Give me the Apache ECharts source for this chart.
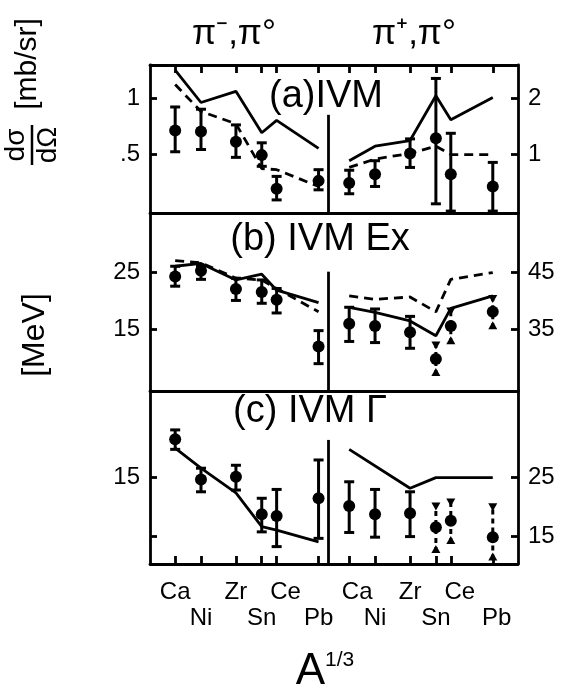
<!DOCTYPE html>
<html><head><meta charset="utf-8">
<script src="https://cdn.jsdelivr.net/npm/echarts@6/dist/echarts.min.js"></script>
<style>html,body{margin:0;padding:0;background:#fff}#c{width:566px;height:696px}</style>
</head><body><div id="c"></div>
<script>
// ---------- data ----------
const elements = ['Ca','Ni','Zr','Sn','Ce','Pb'];
const massNumbers = [40, 58, 90, 120, 140, 208];

// (a) IVM cross section  [mb/sr]
const aLeftData   = [0.71, 0.70, 0.61, 0.49, 0.19, 0.26];
const aLeftLow    = [0.52, 0.54, 0.47, 0.39, 0.09, 0.18];
const aLeftHigh   = [0.92, 0.90, 0.76, 0.60, 0.30, 0.36];
const aLeftSolid  = [1.25, 0.96, 1.06, 0.69, 0.80, 0.55];
const aLeftDashed = [1.12, 0.88, 0.77, 0.37, 0.36, 0.21];

const aRightData   = [0.48, 0.64, 1.01, 1.28, 0.64, 0.42];
const aRightLow    = [0.29, 0.42, 0.76, 0.11, -0.02, -0.02];
const aRightHigh   = [0.71, 0.88, 1.27, 2.35, 1.37, 0.85];
const aRightSolid  = [0.88, 1.14, 1.24, 2.04, 1.61, 2.01];
const aRightDashed = [0.76, 0.91, 1.01, 1.14, 0.99, 0.99];

// (b) IVM Ex  [MeV]
const bLeftData   = [24.2, 25.2, 22.0, 21.5, 20.1, 11.9];
const bLeftLow    = [22.5, 23.7, 20.0, 19.5, 17.8, 8.9];
const bLeftHigh   = [26.0, 26.0, 23.9, 23.6, 22.1, 14.7];
const bLeftSolid  = [26.0, 26.5, 23.6, 24.6, 21.8, 19.6];
const bLeftDashed = [27.0, 26.6, 23.9, 23.6, 22.1, 18.0];

const bRightData   = [35.9, 35.5, 34.4, 29.7, 35.5, 38.0];
const bRightLow    = [32.8, 32.6, 31.6, 26.9, 32.5, 35.1];
const bRightHigh   = [38.8, 38.5, 37.2, 32.6, 38.6, 40.8];
const bRightSolid  = [38.8, 37.9, 36.4, 33.8, 38.6, 40.8];
const bRightDashed = [40.8, 40.2, 40.6, 38.0, 43.7, 44.9];

// (c) IVM Gamma  [MeV]
const cLeftData  = [21.4, 14.6, 15.05, 8.7, 8.4, 11.4];
const cLeftLow   = [19.7, 12.5, 12.8, 5.7, 3.2, 4.6];
const cLeftHigh  = [23.0, 16.5, 17.0, 11.4, 12.9, 17.9];
const cLeftSolid = [19.9, 16.5, 12.3, 6.6, 6.0, 4.0];

const cRightData  = [20.1, 18.7, 18.85, 16.5, 17.6, 14.8];
const cRightLow   = [15.6, 14.8, 14.9, 12.3, 13.8, 11.0];
const cRightHigh  = [24.2, 22.9, 22.5, 20.5, 21.2, 20.4];
const cRightSolid = [29.7, null, 23.1, 24.9, null, 24.9];

// tick values / labels
const aLeftTicks = [0.5, 1],  aLeftTickLabels = ['.5', '1'];
const aRightTicks = [1, 2],   aRightTickLabels = ['1', '2'];
const bLeftTicks = [15, 25],  bLeftTickLabels = ['15', '25'];
const bRightTicks = [35, 45], bRightTickLabels = ['35', '45'];
const cLeftTicks = [5, 15],   cLeftTickLabels = ['', '15'];
const cRightTicks = [15, 25], cRightTickLabels = ['15', '25'];

// ---------- build ----------
const FONT = 'Liberation Sans';
const xPos = massNumbers.map(a => Math.cbrt(a));
const dashedErrSet = new Set(['Sn','Ce','Pb']); // right panels (b),(c)

const xL = {min: 2.98, max: 6.09}, xR = {min: 3.05, max: 6.365};
const panels = [
  {top: 65,  height: 148, yL: [-0.027, 1.295], yR: [-0.054, 2.59]},
  {top: 213, height: 178, yL: [4.1, 35.35],   yR: [24.1, 55.35]},
  {top: 391, height: 173, yL: [0.25, 29.6],   yR: [10.25, 39.6]}
];
const dividerTop = [0.85, 25.05, 21.3];

const grids = [], xAxes = [], yAxes = [], series = [];
const tickLabelMaps = [
  [aLeftTicks, aLeftTickLabels], [aRightTicks, aRightTickLabels],
  [bLeftTicks, bLeftTickLabels], [bRightTicks, bRightTickLabels],
  [cLeftTicks, cLeftTickLabels], [cRightTicks, cRightTickLabels]
];
const LW = 2.8;
const axisLineStyle = {color: '#000', width: LW};

panels.forEach((p, pi) => {
  [0, 1].forEach(side => {
    const gi = pi * 2 + side;
    grids.push({left: side ? 328 : 150, width: side ? 190 : 178, top: p.top, height: p.height});
    const xr = side ? xR : xL;
    const isBottom = pi === 2;
    xAxes.push({
      type: 'value', gridIndex: gi, min: xr.min, max: xr.max, position: 'bottom',
      axisLine: {show: true, onZero: false, lineStyle: axisLineStyle},
      splitLine: {show: false},
      axisTick: {show: isBottom, inside: true, length: 8, customValues: xPos, lineStyle: {width: LW, color: '#000'}},
      axisLabel: {show: false}
    });
    const yr = side ? p.yR : p.yL;
    const [tv, tl] = tickLabelMaps[gi];
    yAxes.push({
      type: 'value', gridIndex: gi, min: yr[0], max: yr[1], position: side ? 'right' : 'left',
      axisLine: {show: true, onZero: false, lineStyle: axisLineStyle},
      splitLine: {show: false},
      axisTick: {show: true, inside: true, length: 7, customValues: tv, lineStyle: {width: LW, color: '#000'}},
      axisLabel: {
        customValues: tv, margin: 10, fontFamily: FONT, fontSize: 24, color: '#000',
        formatter: v => { const i = tv.findIndex(t => Math.abs(t - v) < 1e-6); return i >= 0 ? tl[i] : ''; }
      }
    });
  });
});
// top axes of panel (a)
[0, 1].forEach(side => {
  const xr = side ? xR : xL;
  xAxes.push({
    type: 'value', gridIndex: side, min: xr.min, max: xr.max, position: 'top',
    axisLine: {show: true, onZero: false, lineStyle: axisLineStyle},
    splitLine: {show: false},
    axisTick: {show: true, inside: true, length: 8, customValues: xPos, lineStyle: {width: LW, color: '#000'}},
    axisLabel: {show: false}
  });
});

function errRender(params, api) {
  const x = api.value(0), lo = api.value(1), hi = api.value(2), dashed = api.value(3);
  const pLo = api.coord([x, lo]), pHi = api.coord([x, hi]);
  const st = {stroke: '#000', lineWidth: 3};
  const ch = [{type: 'line', shape: {x1: pLo[0], y1: pLo[1], x2: pHi[0], y2: pHi[1]},
    style: Object.assign({}, st, dashed ? {lineDash: [5, 4]} : {})}];
  if (dashed) {
    ch.push({type: 'polygon', shape: {points: [[pHi[0]-4.5, pHi[1]-1], [pHi[0]+4.5, pHi[1]-1], [pHi[0], pHi[1]+7]]}, style: {fill: '#000'}});
    ch.push({type: 'polygon', shape: {points: [[pLo[0]-4.5, pLo[1]+1], [pLo[0]+4.5, pLo[1]+1], [pLo[0], pLo[1]-7]]}, style: {fill: '#000'}});
  } else {
    ch.push({type: 'line', shape: {x1: pHi[0]-5, y1: pHi[1], x2: pHi[0]+5, y2: pHi[1]}, style: st});
    ch.push({type: 'line', shape: {x1: pLo[0]-5, y1: pLo[1], x2: pLo[0]+5, y2: pLo[1]}, style: st});
  }
  return {type: 'group', children: ch};
}

function addPanel(gi, pts, lo, hi, solid, dashedLine, useDashedErr) {
  const pair = arr => arr.map((v, i) => [xPos[i], v]);
  const solidSeries = {
    type: 'line', xAxisIndex: gi, yAxisIndex: gi, data: pair(solid), showSymbol: false, symbol: 'none',
    connectNulls: true, lineStyle: {color: '#000', width: LW}, z: 3, silent: true, animation: false
  };
  if (gi % 2 === 0) {
    const pi = gi / 2;
    solidSeries.markLine = {
      symbol: 'none', silent: true, label: {show: false}, animation: false,
      lineStyle: {color: '#000', width: LW, type: 'solid'},
      data: [[{coord: [xL.max, dividerTop[pi]]}, {coord: [xL.max, panels[pi].yL[0]]}]]
    };
  }
  series.push(solidSeries);
  if (dashedLine) series.push({
    type: 'line', xAxisIndex: gi, yAxisIndex: gi, data: pair(dashedLine), showSymbol: false, symbol: 'none',
    lineStyle: {color: '#000', width: LW, type: [9, 6]}, z: 3, silent: true, animation: false
  });
  series.push({
    type: 'custom', xAxisIndex: gi, yAxisIndex: gi, clip: false, renderItem: errRender, z: 4, animation: false,
    data: pts.map((v, i) => [xPos[i], lo[i], hi[i], (useDashedErr && dashedErrSet.has(elements[i])) ? 1 : 0])
  });
  series.push({
    type: 'scatter', xAxisIndex: gi, yAxisIndex: gi, data: pair(pts), symbol: 'circle', symbolSize: 12,
    itemStyle: {color: '#000', opacity: 1}, z: 5, animation: false
  });
}
addPanel(0, aLeftData, aLeftLow, aLeftHigh, aLeftSolid, aLeftDashed, false);
addPanel(1, aRightData, aRightLow, aRightHigh, aRightSolid, aRightDashed, false);
addPanel(2, bLeftData, bLeftLow, bLeftHigh, bLeftSolid, bLeftDashed, false);
addPanel(3, bRightData, bRightLow, bRightHigh, bRightSolid, bRightDashed, true);
addPanel(4, cLeftData, cLeftLow, cLeftHigh, cLeftSolid, null, false);
addPanel(5, cRightData, cRightLow, cRightHigh, cRightSolid, null, true);

const fontStr = s => s + 'px "' + FONT + '"';
const txt = (text, x, y, size, extra) => ({type: 'text', x, y, z: 10, style: Object.assign({
  text, font: fontStr(size), fill: '#000', align: 'center', verticalAlign: 'middle'}, extra || {})});

const graphic = [
  txt('π⁻,π°', 234, 34, 35),
  txt('π⁺,π°', 414, 34, 35),
  txt('(a)IVM', 326, 97, 38),
  txt('(b) IVM Ex', 320, 240, 38),
  txt('(c) IVM Γ', 310, 412, 38),
  {type: 'text', x: 325, y: 672, z: 10, style: {
    text: '{a|A}{s|1/3}', align: 'center', verticalAlign: 'middle', fill: '#000',
    rich: {a: {fontFamily: FONT, fontSize: 44, color: '#000'},
           s: {fontFamily: FONT, fontSize: 21, color: '#000', verticalAlign: 'top', padding: [0, 0, 18, 0]}}
  }},
  {type: 'group', x: 32, y: 145, rotation: Math.PI / 2, children: [
    {type: 'text', x: 0, y: -2, style: {text: 'dσ', font: fontStr(28), fill: '#000', align: 'center', verticalAlign: 'bottom'}},
    {type: 'line', shape: {x1: -20, y1: 0, x2: 20, y2: 0}, style: {stroke: '#000', lineWidth: 2.5}},
    {type: 'text', x: 0, y: 2, style: {text: 'dΩ', font: fontStr(28), fill: '#000', align: 'center', verticalAlign: 'top'}},
    {type: 'text', x: 81, y: -4, style: {text: '[mb/sr]', font: fontStr(30), fill: '#000', align: 'center', verticalAlign: 'middle'}}
  ]},
  {type: 'group', x: 35, y: 335, rotation: Math.PI / 2, children: [
    {type: 'text', x: 0, y: 0, style: {text: '[MeV]', font: fontStr(32), fill: '#000', align: 'center', verticalAlign: 'middle'}}
  ]}
];

const chart = echarts.init(document.getElementById('c'), null, {renderer: 'canvas'});
chart.setOption({
  animation: false, backgroundColor: '#fff',
  grid: grids, xAxis: xAxes, yAxis: yAxes, series, graphic
});

// element labels below panel (c), positioned through the x scales
const labelGraphics = [];
[4, 5].forEach(axisIdx => {
  xPos.forEach((v, i) => {
    const px = chart.convertToPixel({xAxisIndex: axisIdx}, v);
    const name = elements[i];
    let dx = 0;
    if (name === 'Ce') dx = 9;
    if (axisIdx === 5 && name === 'Ca') dx = 8;
    if (axisIdx === 5 && name === 'Pb') dx = 4;
    labelGraphics.push(txt(name, px + dx, i % 2 === 0 ? 592 : 618, 24));
  });
});
chart.setOption({graphic: graphic.concat(labelGraphics)});
</script></body></html>
